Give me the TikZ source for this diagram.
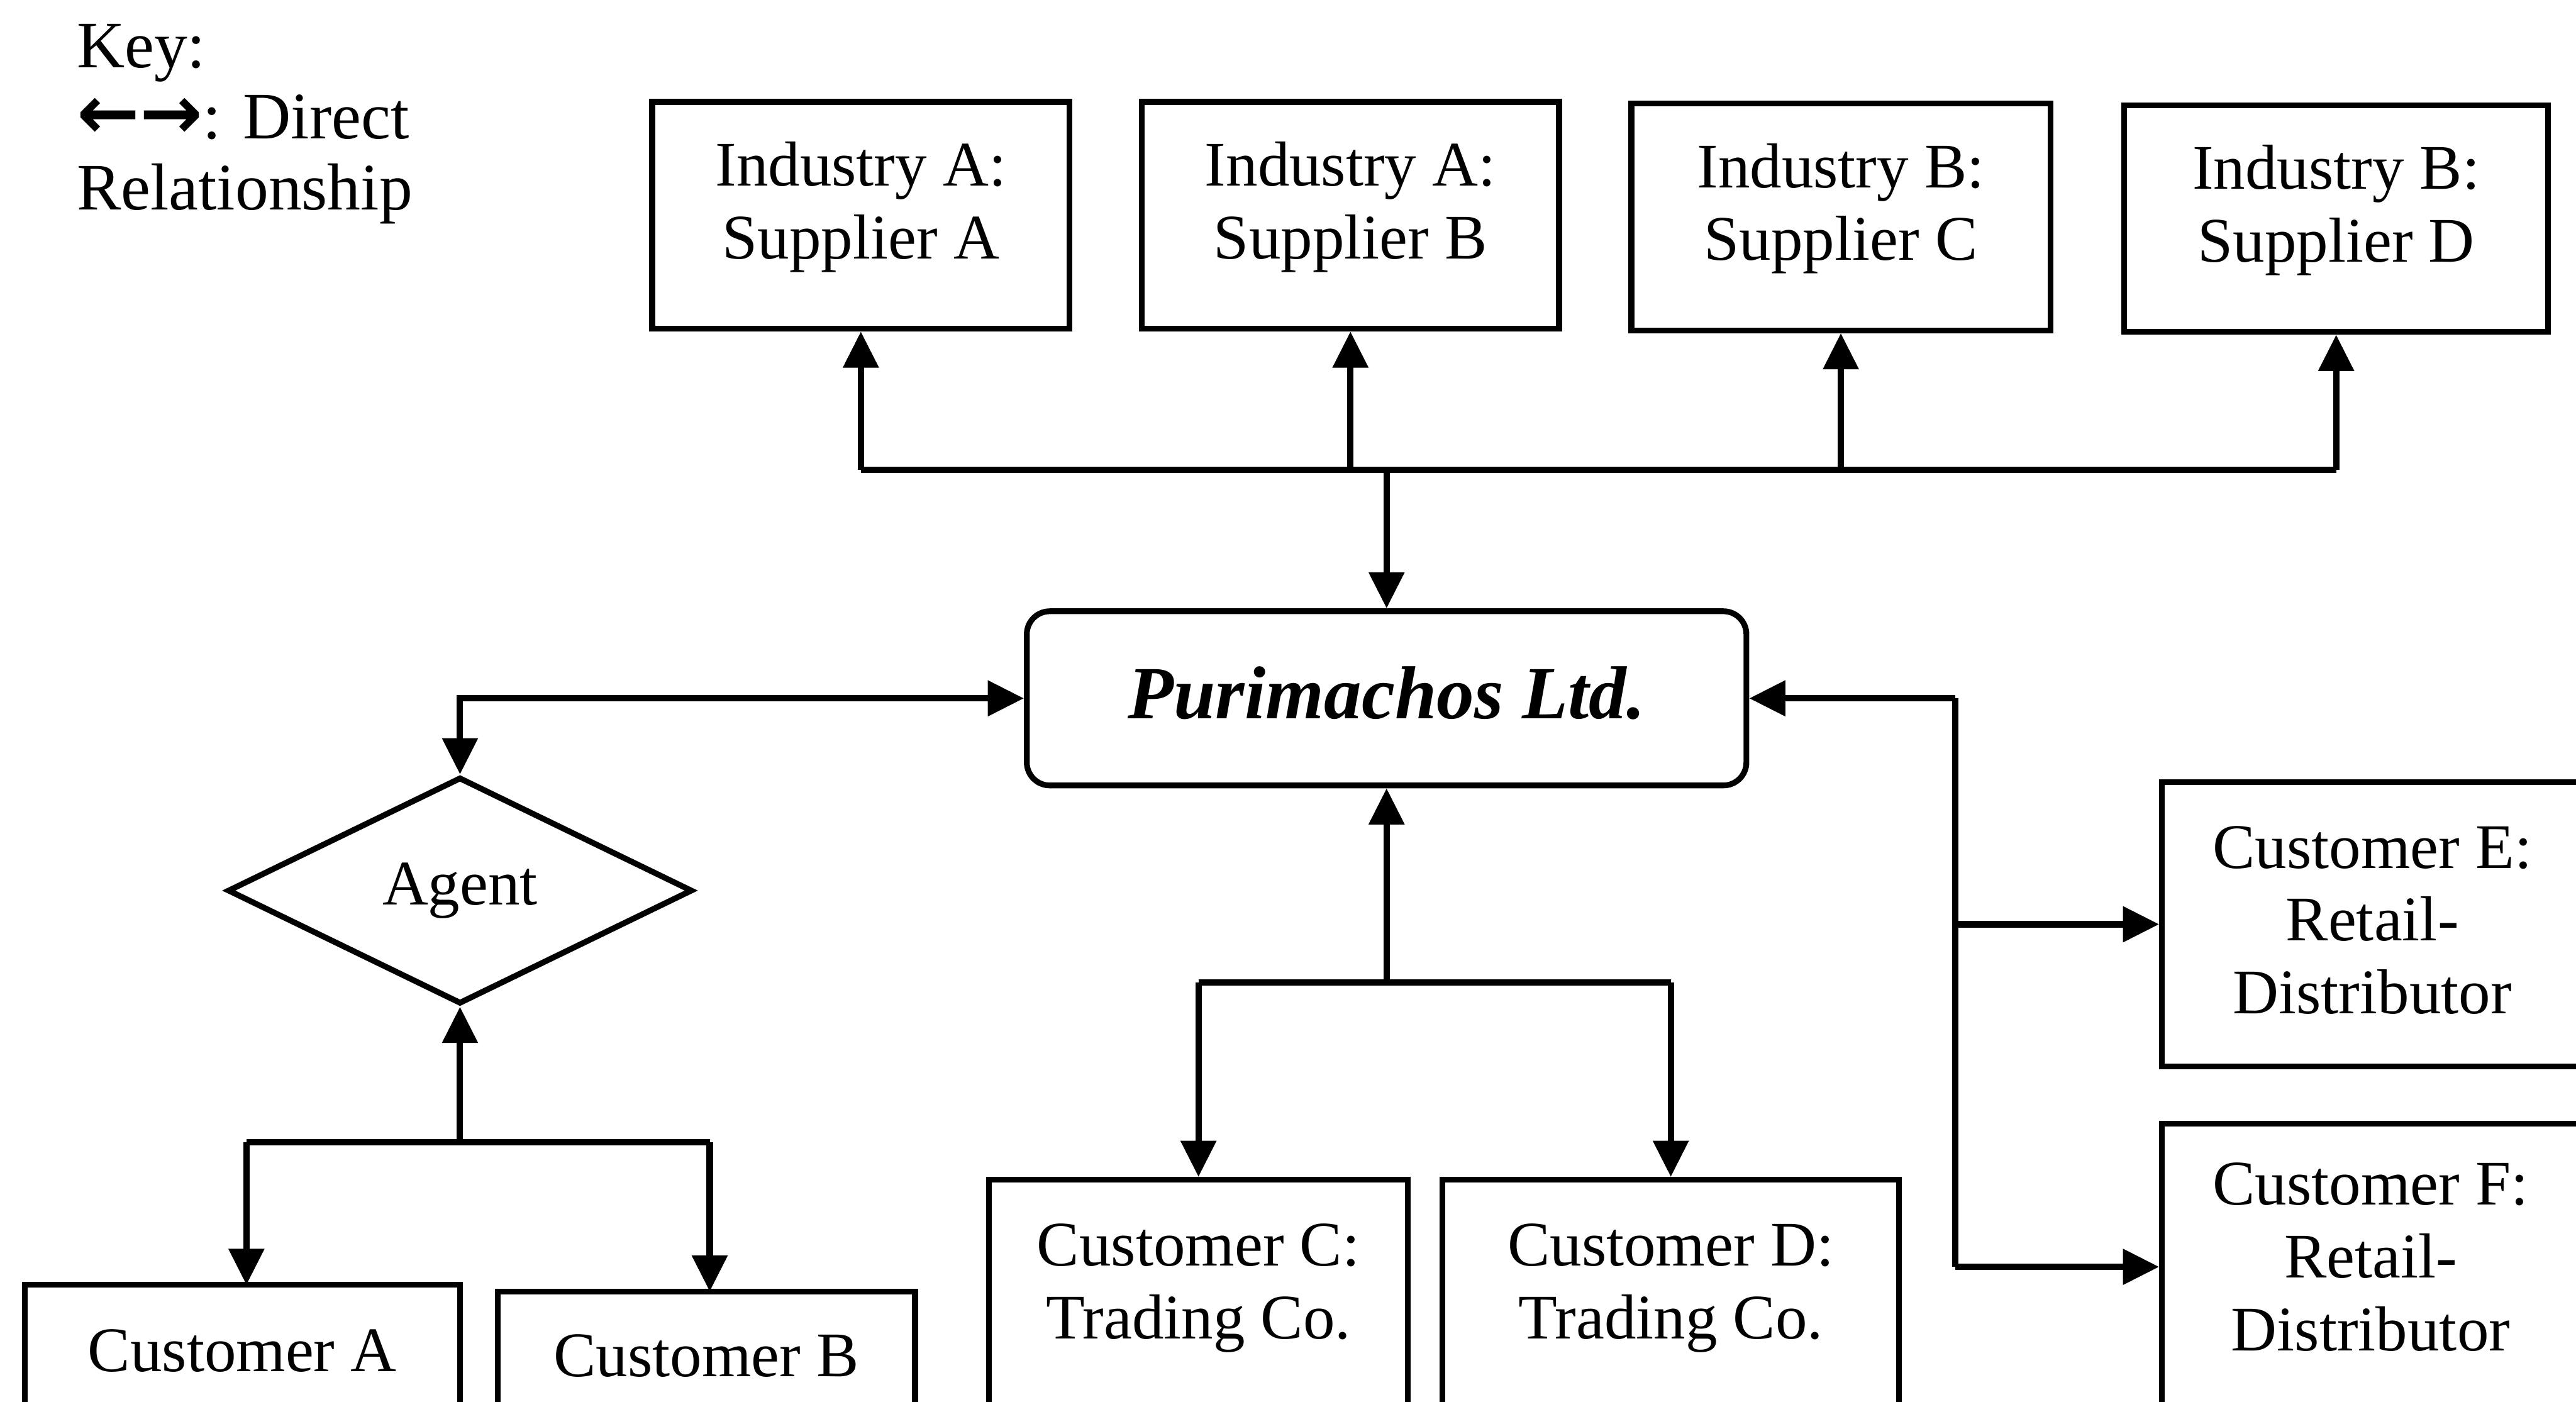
\documentclass[tikz,border=0pt]{standalone}
\usepackage{fontspec}
\setmainfont{Liberation Serif}
\newfontfamily\arrowglyphs{DejaVu Sans}
\usetikzlibrary{arrows.meta,shapes.geometric,calc}
\begin{document}
\begin{tikzpicture}[
  box/.style={draw, line width=1pt, inner sep=0pt},
  lbl/.style={align=center, inner sep=0pt, font=\fontsize{11}{12.6}\selectfont},
  wire/.style={line width=1.1pt},
  tip/.tip={Triangle[length=0.22cm,width=0.21cm]},
  conn/.style={wire, -tip},
  both/.style={wire, tip-tip},
]
\useasboundingbox (0,0) rectangle (15.68,-8.53);
\clip (0,0) rectangle (15.68,-8.53);

% legend
\node[anchor=north west, align=left, inner sep=0pt,
      font=\fontsize{11.5}{12.3}\selectfont] (key) at (0.46,-0.14)
  {Key:\\{\arrowglyphs\bfseries\fontsize{13}{12}\selectfont ←→}: Direct\\Relationship};

% suppliers
\node[box, minimum width=2.54cm, minimum height=1.38cm] (sa) at (5.24,-1.31) {};
\node[box, minimum width=2.54cm, minimum height=1.38cm] (sb) at (8.22,-1.31) {};
\node[box, minimum width=2.55cm, minimum height=1.38cm] (sc) at (11.205,-1.32) {};
\node[box, minimum width=2.58cm, minimum height=1.38cm] (sd) at (14.22,-1.33) {};
\node[lbl] (sat) at (5.24,-1.26) {Industry A:\\Supplier A};
\node[lbl] (sbt) at (8.22,-1.26) {Industry A:\\Supplier B};
\node[lbl] (sct) at (11.205,-1.27) {Industry B:\\Supplier C};
\node[lbl] (sdt) at (14.22,-1.28) {Industry B:\\Supplier D};

% focal company
\node[box, rounded corners=0.14cm, minimum width=4.38cm, minimum height=1.06cm]
  (puri) at (8.44,-4.25) {};
\node[inner sep=0pt, font=\fontsize{13}{15}\selectfont\bfseries\itshape]
  (purit) at (8.44,-4.22) {Purimachos Ltd.};

% agent and its customers
\node[draw, diamond, line width=1pt, inner sep=0pt,
      minimum width=2.83cm, minimum height=1.38cm] (agent) at (2.80,-5.42) {};
\node[lbl] (agentt) at (2.80,-5.42) {Agent};
\node[box, minimum width=2.65cm, minimum height=1.30cm] (ca) at (1.475,-8.47) {};
\node[box, minimum width=2.54cm, minimum height=1.30cm] (cb) at (4.30,-8.51) {};
\node[lbl] (cat) at (1.475,-8.22) {Customer A};
\node[lbl] (cbt) at (4.30,-8.25) {Customer B};

% trading companies
\node[box, minimum width=2.55cm, minimum height=1.60cm] (cc) at (7.295,-7.98) {};
\node[box, minimum width=2.78cm, minimum height=1.60cm] (cd) at (10.17,-7.98) {};
\node[lbl] (cct) at (7.295,-7.84) {Customer C:\\Trading Co.};
\node[lbl] (cdt) at (10.17,-7.84) {Customer D:\\Trading Co.};

% retail distributors
\node[box, minimum width=2.60cm, minimum height=1.73cm] (ce) at (14.46,-5.625) {};
\node[box, minimum width=2.60cm, minimum height=1.74cm] (cf) at (14.46,-7.71) {};
\node[lbl] (cet) at (14.44,-5.60) {Customer E:\\Retail-\\Distributor};
\node[lbl] (cft) at (14.43,-7.65) {Customer F:\\Retail-\\Distributor};

% supplier links
\coordinate (sbus) at (8.44,-2.86);
\draw[wire] (sa.south |- sbus) -- (sd.south |- sbus);
\foreach \s in {sa,sb,sc,sd} \draw[conn] (\s.south |- sbus) -- (\s.south);
\draw[conn] (sbus) -- (puri.north);

% agent links
\draw[both] (agent.north) |- (puri.west);
\coordinate (abus) at (2.80,-6.95);
\draw[conn] (abus) -- (agent.south);
\draw[wire] (1.50,-6.95) -- (4.32,-6.95);
\draw[conn] (1.50,-6.95) -- (1.50,-7.82);
\draw[conn] (4.32,-6.95) -- (4.32,-7.86);

% trading company links
\coordinate (cbus) at (8.44,-5.98);
\draw[conn] (cbus) -- (puri.south);
\draw[wire] (cc.north |- cbus) -- (cd.north |- cbus);
\draw[conn] (cc.north |- cbus) -- (cc.north);
\draw[conn] (cd.north |- cbus) -- (cd.north);

% distributor links
\coordinate (rj) at (11.90,-4.25);
\coordinate (rb) at (11.90,-7.71);
\draw[conn] (rj) -- (puri.east);
\draw[wire] (rj) -- (rb);
\draw[conn] (rj |- ce.west) -- (ce.west);
\draw[conn] (rb) -- (cf.west);
\end{tikzpicture}
\end{document}
